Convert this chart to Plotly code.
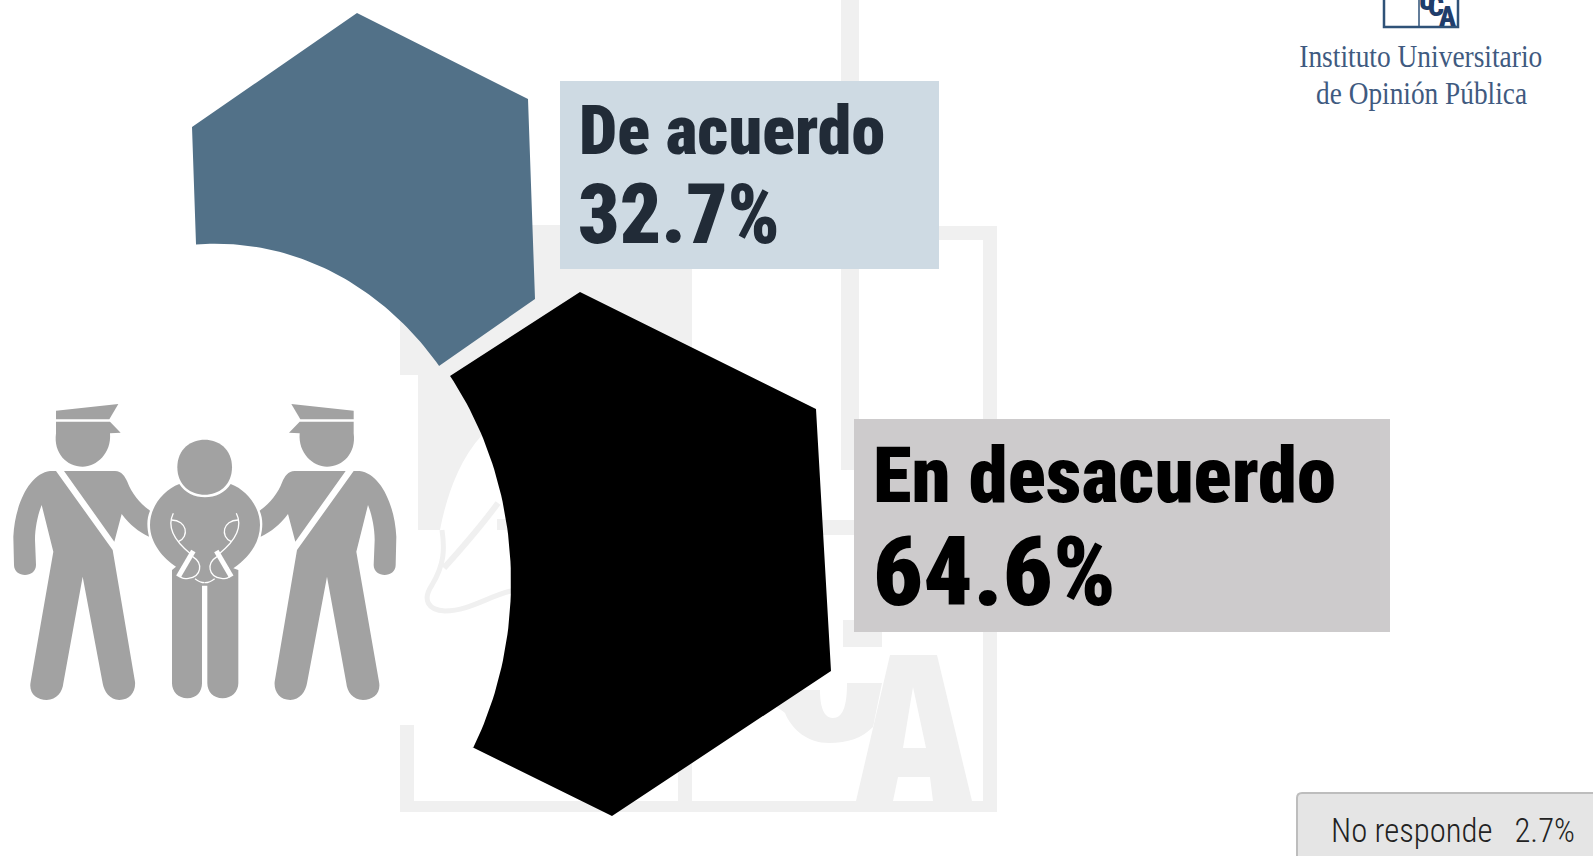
import json
import re
import numpy as np
import plotly.graph_objects as go

# ---- data ----
categories = ["De acuerdo", "En desacuerdo", "No responde"]
values = [32.7, 64.6, 2.7]

# ---- geometry ----
W, H = 1593, 856
ELL_BOT = (216.4, 582.0, 294.6, 338.3)
ELL_TOP = (216.4, 582.0, 289.5, 338.3)
HEX_TOP = [(192, 127), (357, 13), (528, 99), (535, 299), (439, 366)]
HEX_TOP_END = (196, 244)
HEX_BOT = [(472, 747), (612, 816), (831, 671), (816, 409), (580, 292), (450, 376)]
C_TOP, C_BOX_TXT = "#527188", "#212b37"
GREY = "#f0f0f0"
ICON = "#a2a2a2"
COND = "Roboto Condensed, Roboto, sans-serif"
SERIF = "Liberation Serif, serif"


def arc(ell, p0, p1, n=60):
    cx, cy, rx, ry = ell
    a0 = np.arctan2((cy - p0[1]) / ry, (p0[0] - cx) / rx)
    a1 = np.arctan2((cy - p1[1]) / ry, (p1[0] - cx) / rx)
    t = np.linspace(a0, a1, n)
    return list(cx + rx * np.cos(t)), list(cy - ry * np.sin(t))


ax, ay = arc(ELL_TOP, HEX_TOP[-1], HEX_TOP_END)
top_x = [p[0] for p in HEX_TOP] + ax
top_y = [p[1] for p in HEX_TOP] + ay
bx, by = arc(ELL_BOT, HEX_BOT[-1], HEX_BOT[0])
bot_x = [p[0] for p in HEX_BOT] + bx
bot_y = [p[1] for p in HEX_BOT] + by

fig = go.Figure()
fig.add_trace(go.Scatter(x=top_x + top_x[:1], y=top_y + top_y[:1], mode="lines", fill="toself",
                         fillcolor=C_TOP, line=dict(width=0), name=categories[0], hoverinfo="skip"))
fig.add_trace(go.Scatter(x=bot_x + bot_x[:1], y=bot_y + bot_y[:1], mode="lines", fill="toself",
                         fillcolor="#000000", line=dict(width=0), name=categories[1], hoverinfo="skip"))

shapes = []


def rect(x0, y0, x1, y1, fill, line=None, lw=0):
    shapes.append(dict(type="rect", x0=x0, y0=y0, x1=x1, y1=y1, fillcolor=fill, layer="below",
                       line=dict(color=line or fill, width=lw)))


def path(d, fill=None, line=None, lw=0, layer="below"):
    shapes.append(dict(type="path", path=d, fillcolor=fill or "rgba(0,0,0,0)", layer=layer,
                       line=dict(color=line or "rgba(0,0,0,0)", width=lw)))


# ---- pale logo behind the chart ----
rect(400, 225, 692, 375, GREY)
rect(418, 375, 692, 530, GREY)
rect(400, 725, 414, 812, GREY)
rect(400, 801, 997, 812, GREY)
rect(678, 530, 692, 812, GREY)
rect(983, 226, 997, 812, GREY)
rect(692, 226, 997, 240, GREY)
rect(841, 0, 859, 470, GREY)
rect(700, 520, 882, 535, GREY)
# white swoosh inside block
path("M 440,530 C 445,505 455,465 482,435 L 520,430 L 520,531 L 440,531 Z", fill="#ffffff")
path("M 442,530 C 445,550 444,565 432,585 C 422,600 428,610 445,611 C 470,611 490,595 515,590",
     line=GREY, lw=5)
path("M 444,568 C 462,548 482,525 498,503", line=GREY, lw=6)
path("M 497,519 L 515,519 L 515,530 L 497,530 Z", fill=GREY)
# C and A of the pale logo
path("M 843,620 L 882,620 L 882,647 L 843,647 Z", fill=GREY)
path("M 785,713 C 792,730 808,743 829,743 C 848,743 862,738 873,727 L 882,683 L 847,683 "
     "C 847,700 845,718 833,718 C 822,718 820,702 820,690 L 760,690 C 762,700 775,705 785,713 Z", fill=GREY)
path("M 890,655 L 937,655 L 972,801 L 933,801 L 930,777 L 898,777 L 893,801 L 856,801 Z "
     "M 913,687 L 903,748 L 926,748 Z", fill=GREY)

# ---- institute mark, top right ----
LOGO = "#2f5278"
rect(1384, -6, 1458, 27, "#ffffff", LOGO, 2.5)
shapes.append(dict(type="line", x0=1419, y0=0, x1=1419, y1=27, line=dict(color=LOGO, width=1.5)))

# ---- boxes ----
rect(560, 81, 939, 269, "#cedae3")
rect(854, 419, 1390, 632, "#cdcbcc")
path("M 1297,870 L 1297,798 Q 1297,793 1302,793 L 1610,793 L 1610,870 Z",
     fill="#e5e5e5", line="#bdbdbd", lw=2)


# ---- people pictogram: traced on a 3x grid, mirrored for the second officer ----
def tf(d, mirror=False):
    def rep(m):
        x, y = float(m.group(1)), float(m.group(2))
        if mirror:
            x = 1229 - x
        return f"{x / 3:.2f},{y / 3 + 390:.2f}"
    return re.sub(r"(-?\d+\.?\d*),(-?\d+\.?\d*)", rep, d)


OFFICER = [
    "M 168,62 L 355,42 L 328,88 L 168,88 Z",
    "M 168,95 L 330,95 L 362,128 L 330,130 C 335,190 290,230 248,230 C 200,230 160,190 168,130 Z",
    "M 150,243 L 168,243 L 338,480 L 405,875 C 408,905 390,930 358,930 C 330,930 312,905 308,880 "
    "L 248,560 L 190,880 C 188,905 170,930 140,930 C 110,930 85,910 92,875 L 160,485 L 125,345 "
    "C 115,370 105,410 105,450 L 108,525 C 108,565 42,565 42,525 L 40,440 C 45,340 90,250 150,243 Z",
    "M 192,243 L 345,243 C 365,243 375,260 382,275 C 395,310 420,340 450,362 C 440,385 440,410 447,440 "
    "C 415,425 390,405 365,372 L 343,455 Z",
]
for d in OFFICER:
    path(tf(d), fill=ICON, layer="above")
    path(tf(d, True), fill=ICON, layer="above")
path(tf("M 532,232 C 532,122 696,122 696,232 C 696,342 532,342 532,232 Z"), fill=ICON, layer="above")
path(tf("M 538,282 C 570,335 660,335 692,282 C 740,300 780,350 780,405 C 780,460 745,505 700,535 "
        "L 715,540 L 715,880 C 715,905 695,925 668,925 C 640,925 622,905 622,880 L 622,587 L 606,587 "
        "L 606,880 C 606,905 590,925 562,925 C 535,925 516,905 516,880 L 516,540 L 528,530 "
        "C 490,505 450,460 450,405 C 450,350 490,300 538,282 Z"), fill=ICON, layer="above")
CUFF = [
    ("M 520,370 C 500,410 520,450 572,492", 1.3),
    ("M 515,390 C 560,390 570,440 535,455", 1.3),
    ("M 578,500 C 610,520 605,560 565,565 C 530,570 535,545 552,525", 1.3),
    ("M 580,483 L 535,560", 5),
    ("M 585,566 C 600,578 614,578 614,578", 1.3),
]
for d, lw in CUFF:
    path(tf(d), line="#ffffff", lw=lw, layer="above")
    path(tf(d, True), line="#ffffff", lw=lw, layer="above")


# ---- text ----
def label(x, y, text, size, color, family=COND, anchor="left", weight=900):
    return dict(x=x, y=y, xref="x", yref="y", text=text, showarrow=False, xanchor=anchor, yanchor="middle",
                font=dict(size=size, color=color, family=family, weight=weight), align=anchor)


L1, L2 = "Instituto Universitario", "de Opinión Pública"
T_A, T_B = f"{values[0]:.1f}%", f"{values[1]:.1f}%"
T_N = f"{categories[2]}\u00a0\u00a0\u00a0{values[2]:.1f}%"
ann = [
    label(577, 131, categories[0], 68, C_BOX_TXT),
    label(576, 214, T_A, 83, C_BOX_TXT),
    label(871, 475, categories[1], 78, "#000000"),
    label(871, 572, T_B, 96, "#000000"),
    label(1329, 830, T_N, 34, "#222222", weight=300),
    label(1421, 56, L1, 32, "#3f5a80", SERIF, "center", 400),
    label(1421, 93, L2, 32, "#3f5a80", SERIF, "center", 400),
    label(1427, 0, "U", 28, "#1f3d6b", anchor="center"),
    label(1436, 6, "C", 28, "#1f3d6b", anchor="center"),
    label(1447, 16, "A", 28, "#1f3d6b", anchor="center"),
]

fig.update_layout(
    width=W, height=H, margin=dict(l=0, r=0, t=0, b=0), showlegend=False,
    paper_bgcolor="#ffffff", plot_bgcolor="#ffffff",
    xaxis=dict(range=[0, W], visible=False, fixedrange=True),
    yaxis=dict(range=[H, 0], visible=False, fixedrange=True),
    shapes=shapes, annotations=ann,
)
FIT = {L1: 243, L2: 211, categories[0]: 306, categories[1]: 463, T_A: 202, T_B: 243, T_N: 244}
POST = """
document.body.style.margin='0';document.body.style.overflow='hidden';
var fit=%s;
document.querySelectorAll('.annotation-text').forEach(function(t){
  var w=fit[t.textContent];
  if(w){t.setAttribute('textLength',w);t.setAttribute('lengthAdjust','spacingAndGlyphs');}
});
""" % json.dumps(FIT)
fig.write_html("out.html", config={"displayModeBar": False}, post_script=POST)
